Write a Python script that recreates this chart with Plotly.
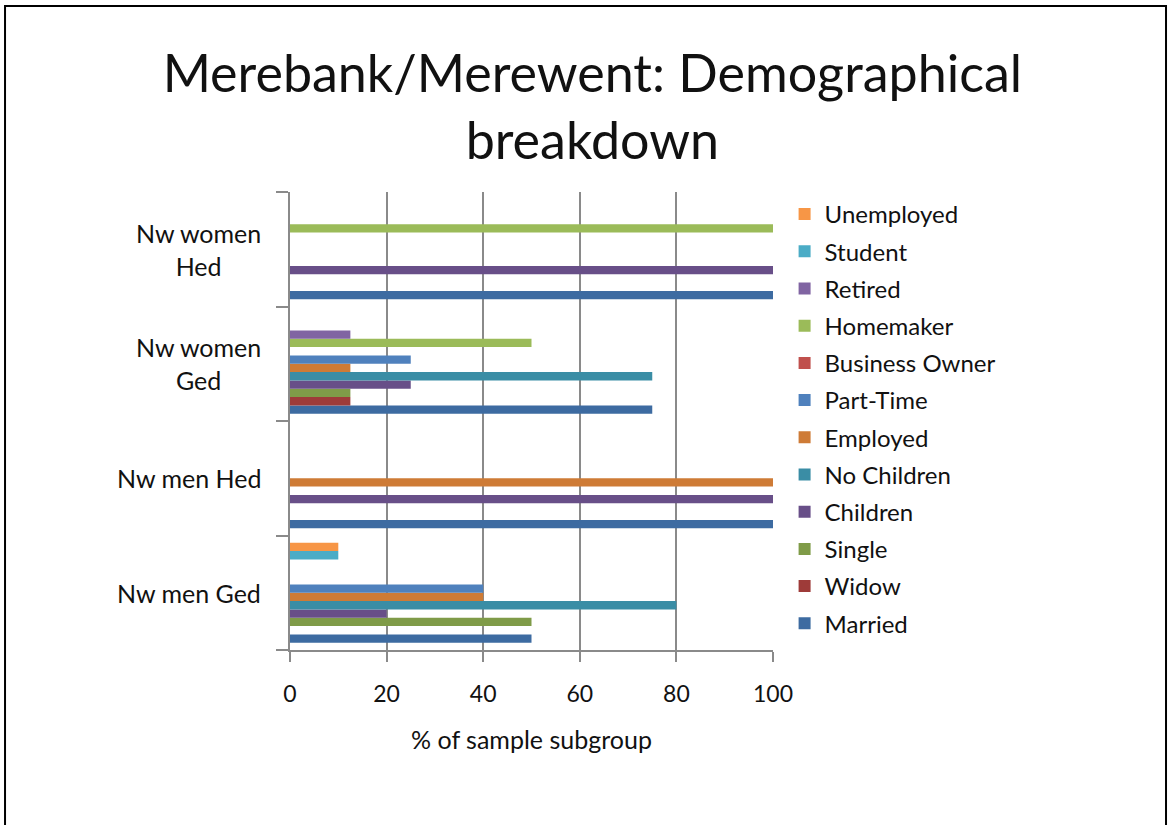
import plotly.graph_objects as go

# categories, bottom to top as drawn
groups = ["Nw men Ged", "Nw men Hed", "Nw women Ged", "Nw women Hed"]
group_labels = ["Nw men Ged", "Nw men Hed", "Nw women<br>Ged", "Nw women<br>Hed"]

# series values per group (same order as groups)
married = [50, 100, 75, 100]
widow = [0, 0, 12.5, 0]
single = [50, 0, 12.5, 0]
children = [20, 100, 25, 100]
no_children = [80, 0, 75, 0]
employed = [40, 100, 12.5, 0]
part_time = [40, 0, 25, 0]
business_owner = [0, 0, 0, 0]
homemaker = [0, 0, 50, 100]
retired = [0, 0, 12.5, 0]
student = [10, 0, 0, 0]
unemployed = [10, 0, 0, 0]

series = [
    ("Married", married, "#3D6BA1"),
    ("Widow", widow, "#9E3B39"),
    ("Single", single, "#7F9B48"),
    ("Children", children, "#684F88"),
    ("No Children", no_children, "#3A8DA5"),
    ("Employed", employed, "#CE7B36"),
    ("Part-Time", part_time, "#4F81BD"),
    ("Business Owner", business_owner, "#C0504D"),
    ("Homemaker", homemaker, "#9BBB59"),
    ("Retired", retired, "#8064A2"),
    ("Student", student, "#4BACC6"),
    ("Unemployed", unemployed, "#F79646"),
]

x_ticks = [0, 20, 40, 60, 80, 100]

FONT = "Lato"
GRID = "#8a8a8a"
TXT = "#111"

fig = go.Figure()
for i, (name, vals, color) in enumerate(series):
    fig.add_trace(go.Bar(
        y=groups, x=vals, name=name, orientation="h",
        marker=dict(color=color, line=dict(width=0)),
        legendgroup=name, legendrank=len(series) - i,
    ))

# category labels, centred lines, right edge near the axis
for g, lab in zip(groups, group_labels):
    fig.add_annotation(
        x=-0.056, xref="paper", y=g, yref="y", text=lab,
        showarrow=False, xanchor="right", align="center",
        font=dict(family=FONT, size=25, color=TXT),
    )

# outer frame of the chart sheet
fig.add_shape(type="rect", xref="paper", yref="paper",
              x0=-0.590, x1=1.8137, y0=-0.45, y1=1.406,
              line=dict(color="black", width=2))

fig.update_layout(
    width=1173, height=825,
    margin=dict(l=290, r=400, t=192, b=175),
    paper_bgcolor="white", plot_bgcolor="white",
    barmode="group", bargap=0.127, bargroupgap=0,
    font=dict(family=FONT, color=TXT),
    title=dict(
        text="Merebank/Merewent: Demographical<br>breakdown",
        x=0.505, xanchor="center", y=0.889, yanchor="middle",
        font=dict(family=FONT, size=52, color=TXT),
    ),
    showlegend=True,
    legend=dict(
        traceorder="grouped", tracegroupgap=3,
        x=1.024, xanchor="left", y=1.0, yanchor="top",
        font=dict(family=FONT, size=24, color=TXT),
        itemwidth=30,
    ),
    xaxis=dict(
        range=[0, 100], tickvals=x_ticks, showgrid=True,
        gridcolor=GRID, gridwidth=2, showline=True, linecolor=GRID,
        linewidth=2, ticks="outside", ticklen=10, tickcolor=GRID,
        tickwidth=2, ticklabelstandoff=12, zeroline=False,
        tickfont=dict(family=FONT, size=23, color=TXT),
        title=dict(text="% of sample subgroup", standoff=26,
                   font=dict(family=FONT, size=25, color=TXT)),
    ),
    yaxis=dict(
        categoryorder="array", categoryarray=groups,
        showticklabels=False, showline=True, linecolor=GRID, linewidth=2,
        ticks="outside", ticklen=12, tickcolor=GRID, tickwidth=2,
        tickson="boundaries", showgrid=False, zeroline=False,
    ),
)

fig.write_html("out.html", config={"displayModeBar": False},
               post_script="document.body.style.margin='0';")
